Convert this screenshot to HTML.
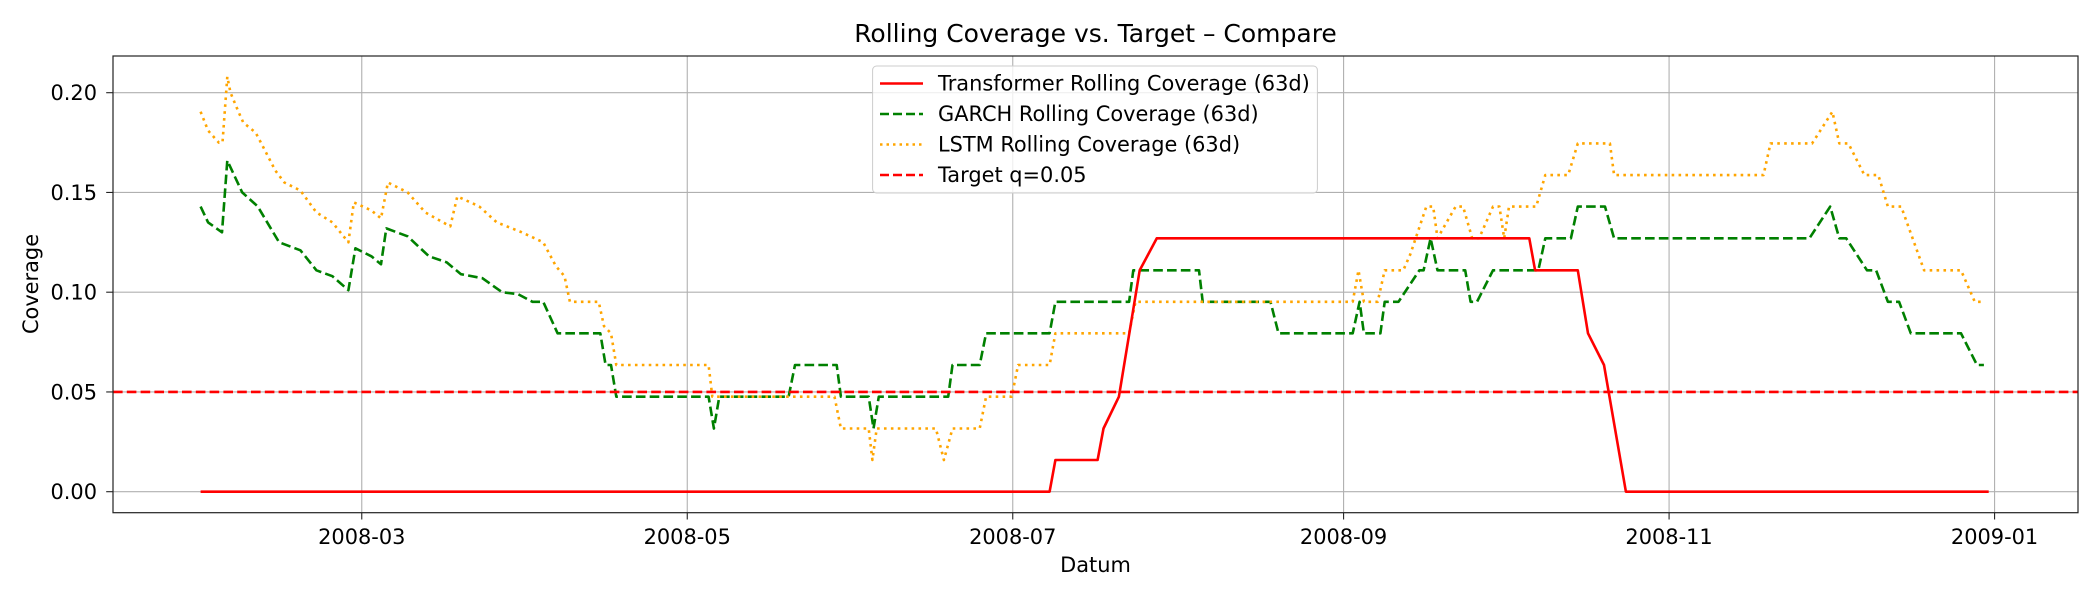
<!DOCTYPE html>
<html><head><meta charset="utf-8"><style>
html,body{margin:0;padding:0;background:#fff;}
svg{display:block;font-family:"DejaVu Sans","Liberation Sans",sans-serif;}
</style></head><body>
<svg id="chart" width="2100" height="600" viewBox="0 0 2100 600" xmlns="http://www.w3.org/2000/svg">
<rect width="2100" height="600" fill="#fff"/>
<text x="1095.5" y="42" font-size="25" text-anchor="middle" fill="#000">Rolling Coverage vs. Target – Compare</text>
<g id="grid"></g>
<g id="series"></g>
<rect x="113" y="56" width="1965" height="456.7" fill="none" stroke="#222" stroke-width="1.2"/>
<g id="ticks"></g>
<text x="1095.5" y="572" font-size="20.9" text-anchor="middle">Datum</text>
<text transform="translate(38,284) rotate(-90)" font-size="20.9" text-anchor="middle">Coverage</text>
<g id="legend">
<rect x="872.6" y="66" width="444.8" height="127" rx="4" fill="#fff" fill-opacity="0.8" stroke="#ccc" stroke-width="1"/>
<line x1="880" y1="83.5" x2="923" y2="83.5" stroke="#ff0000" stroke-width="2.5"/>
<text x="938" y="90.5" font-size="20.9">Transformer Rolling Coverage (63d)</text>
<line x1="880" y1="114" x2="923" y2="114" stroke="#008000" stroke-width="2.5" stroke-dasharray="9,4"/>
<text x="938" y="121" font-size="20.9">GARCH Rolling Coverage (63d)</text>
<line x1="880" y1="144.5" x2="923" y2="144.5" stroke="#ffa500" stroke-width="2.5" stroke-dasharray="2.5,4"/>
<text x="938" y="151.5" font-size="20.9">LSTM Rolling Coverage (63d)</text>
<line x1="880" y1="175" x2="923" y2="175" stroke="#ff0000" stroke-width="2.5" stroke-dasharray="9,4"/>
<text x="938" y="182" font-size="20.9">Target q=0.05</text>
</g>
</svg>
<script>
// Day-of-year (2008-01-01 = 0) and coverage values
const yTicks = [0, 0.05, 0.10, 0.15, 0.20];
const yTickLabels = ["0.00", "0.05", "0.10", "0.15", "0.20"];
const xTickDays = [60, 121, 182, 244, 305, 366];
const xTickLabels = ["2008-03", "2008-05", "2008-07", "2008-09", "2008-11", "2009-01"];
const targetQ = 0.05;

const transDays = [29.8, 188.9, 190, 197.9, 199, 201.9, 205.8, 209, 278.8, 279.9, 287.9, 289.8, 292.8, 296.9, 364.9];
const transVals = [0, 0, 0.0159, 0.0159, 0.0317, 0.0476, 0.111, 0.127, 0.127, 0.111, 0.111, 0.0794, 0.0635, 0, 0];

const garchDays = [29.8, 31.2, 33.8, 34.8, 37.6, 40.5, 44.5, 48.5, 51.5, 54.5, 57.5, 58.8, 61.8, 63.6, 64.6, 68.6, 72.6, 75.9, 78.6, 82.6, 86.3, 89.3, 92, 94, 96.7, 104.7, 105.7, 106.7, 107.7, 125, 126, 127, 140, 141.2, 149, 149.8, 155, 155.9, 156.9, 169.9, 170.7, 175.8, 177, 188.9, 190, 203.8, 204.6, 216.9, 217.6, 230.3, 231.8, 245.7, 247, 247.8, 250.9, 251.7, 254.3, 258.2, 259, 260.3, 261.6, 266.8, 267.8, 269, 272, 280.5, 281.8, 286.6, 287.9, 293, 294.7, 331.3, 335.2, 336.9, 338.2, 342.1, 343.8, 346, 348.1, 350.3, 359.7, 362.7, 364];
const garchVals = [0.1429, 0.135, 0.130, 0.166, 0.150, 0.143, 0.125, 0.121, 0.111, 0.108, 0.101, 0.122, 0.118, 0.114, 0.132, 0.128, 0.118, 0.115, 0.109, 0.107, 0.100, 0.099, 0.0952, 0.0952, 0.0794, 0.0794, 0.0635, 0.0635, 0.0476, 0.0476, 0.0317, 0.0476, 0.0476, 0.0635, 0.0635, 0.0476, 0.0476, 0.0317, 0.0476, 0.0476, 0.0635, 0.0635, 0.0794, 0.0794, 0.0952, 0.0952, 0.111, 0.111, 0.0952, 0.0952, 0.0794, 0.0794, 0.0952, 0.0794, 0.0794, 0.0952, 0.0952, 0.111, 0.111, 0.127, 0.111, 0.111, 0.0952, 0.0952, 0.111, 0.111, 0.127, 0.127, 0.1429, 0.1429, 0.127, 0.127, 0.1429, 0.127, 0.127, 0.111, 0.111, 0.0952, 0.0952, 0.0794, 0.0794, 0.0635, 0.0635];

const lstmDays = [29.8, 31.2, 33.2, 33.9, 34.8, 35.4, 36.8, 37.8, 40.1, 41.1, 43.8, 45.5, 48.5, 51.5, 54.5, 57.5, 58.5, 61.8, 63.6, 64.9, 68.6, 71.9, 76.6, 77.9, 82, 85.3, 90, 94, 96.4, 98, 99, 104.4, 105.4, 106.7, 107.7, 125, 125.7, 148.6, 149.8, 155, 155.7, 156.5, 167.6, 169.1, 170.7, 175.8, 177, 181.8, 183, 188.9, 190, 203.8, 205, 245.7, 246.8, 247.8, 250.4, 251.7, 255.2, 256.5, 259.5, 260.8, 261.6, 265, 266.4, 268.1, 269.4, 272, 273.2, 274.1, 275, 280.1, 281.8, 286.1, 287.9, 293.9, 294.7, 322.7, 324, 331.8, 335.6, 336.9, 338.6, 341.6, 344.2, 346, 348.5, 352.8, 359.7, 362.3, 364];
const lstmVals = [0.1905, 0.181, 0.175, 0.175, 0.208, 0.200, 0.191, 0.185, 0.180, 0.175, 0.161, 0.155, 0.151, 0.140, 0.135, 0.125, 0.145, 0.141, 0.137, 0.155, 0.150, 0.140, 0.133, 0.148, 0.143, 0.135, 0.130, 0.125, 0.113, 0.108, 0.0952, 0.0952, 0.083, 0.0794, 0.0635, 0.0635, 0.0476, 0.0476, 0.0317, 0.0317, 0.0159, 0.0317, 0.0317, 0.0159, 0.0317, 0.0317, 0.0476, 0.0476, 0.0635, 0.0635, 0.0794, 0.0794, 0.0952, 0.0952, 0.111, 0.0952, 0.0952, 0.111, 0.111, 0.119, 0.1429, 0.1429, 0.127, 0.1429, 0.1429, 0.127, 0.127, 0.1429, 0.1429, 0.127, 0.1429, 0.1429, 0.1587, 0.1587, 0.1746, 0.1746, 0.1587, 0.1587, 0.1746, 0.1746, 0.1905, 0.1746, 0.1746, 0.1587, 0.1587, 0.1429, 0.1429, 0.111, 0.111, 0.0952, 0.0952];

const NS = "http://www.w3.org/2000/svg";
const X0 = 113, X1 = 2078, Y0 = 56, Y1 = 512.7;
function xScale(d) { return 41.6 + d * 5.336; }
function yScale(v) { return 491.7 - v * 1995; }
function mk(tag, attrs, parent) {
  const e = document.createElementNS(NS, tag);
  for (const k in attrs) e.setAttribute(k, attrs[k]);
  parent.appendChild(e);
  return e;
}
const grid = document.getElementById("grid");
const ticks = document.getElementById("ticks");
yTicks.forEach((v, i) => {
  const y = yScale(v);
  const gl = mk("line", {x1: X0, x2: X1, y1: y, y2: y, stroke: "#b0b0b0", "stroke-width": 1.1}, grid);
  
  
  const tk = mk("line", {x1: X0 - 6.8, x2: X0, y1: y, y2: y, stroke: "#222", "stroke-width": 1.1}, ticks);
  
  
  const t = mk("text", {x: 97, y: y + 7.5, "font-size": 20.9, "text-anchor": "end"}, ticks);
  t.textContent = yTickLabels[i];
  
  
});
xTickDays.forEach((d, i) => {
  const x = xScale(d);
  const gl = mk("line", {x1: x, x2: x, y1: Y0, y2: Y1, stroke: "#b0b0b0", "stroke-width": 1.1}, grid);
  
  
  const tk = mk("line", {x1: x, x2: x, y1: Y1, y2: Y1 + 6.8, stroke: "#222", "stroke-width": 1.1}, ticks);
  
  
  const t = mk("text", {x: x, y: 544, "font-size": 20.9, "text-anchor": "middle"}, ticks);
  t.textContent = xTickLabels[i];
  
  
});
const series = document.getElementById("series");
function drawLine(days, vals, color, dash, name) {
  const pts = days.map((d, i) => xScale(d).toFixed(1) + "," + yScale(vals[i]).toFixed(1)).join(" ");
  const attrs = {points: pts, fill: "none", stroke: color, "stroke-width": 2.6, "stroke-linejoin": "round"};
  if (dash) attrs["stroke-dasharray"] = dash;
  const p = mk("polyline", attrs, series);
  
  
}
drawLine(garchDays, garchVals, "#008000", "9.6,4.2", "garch-line");
drawLine(lstmDays, lstmVals, "#ffa500", "2.6,4.3", "lstm-line");
drawLine(transDays, transVals, "#ff0000", null, "transformer-line");
const ty = yScale(targetQ);
const tl = mk("line", {x1: X0, x2: X1, y1: ty, y2: ty, stroke: "#ff0000", "stroke-width": 2.6, "stroke-dasharray": "9.6,4.2"}, series);


</script>
</body></html>
